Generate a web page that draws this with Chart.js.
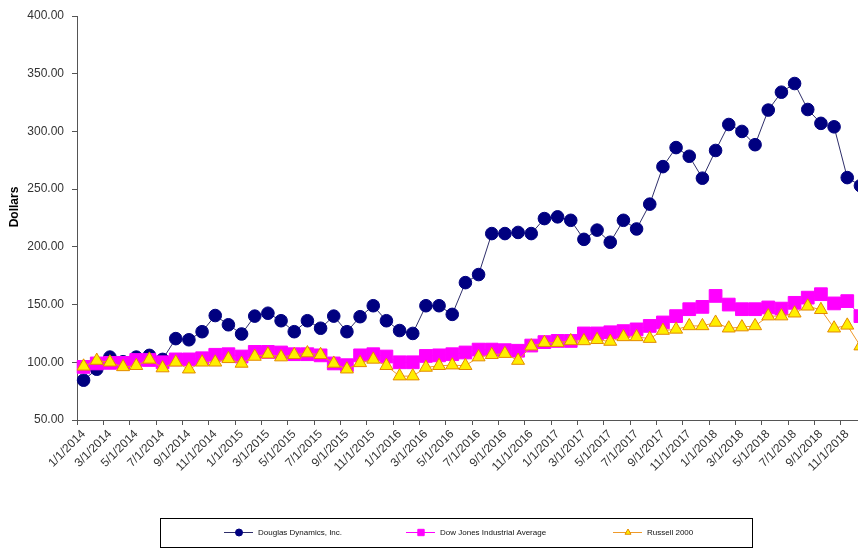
<!DOCTYPE html>
<html>
<head>
<meta charset="utf-8">
<title>Douglas Dynamics vs indexes</title>
<script src="https://cdn.jsdelivr.net/npm/chart.js@4.4.1/dist/chart.umd.min.js"></script>
<style>
    html, body { margin: 0; padding: 0; overflow: hidden; background: #fff; }
    #wrap { position: relative; width: 880px; height: 548px; }
</style>
</head>
<body>
<div id="wrap"><canvas id="mycanvas"></canvas></div>
<script>
var months = [
    "1/1/2014", "2/1/2014", "3/1/2014", "4/1/2014", "5/1/2014", "6/1/2014",
    "7/1/2014", "8/1/2014", "9/1/2014", "10/1/2014", "11/1/2014", "12/1/2014",
    "1/1/2015", "2/1/2015", "3/1/2015", "4/1/2015", "5/1/2015", "6/1/2015",
    "7/1/2015", "8/1/2015", "9/1/2015", "10/1/2015", "11/1/2015", "12/1/2015",
    "1/1/2016", "2/1/2016", "3/1/2016", "4/1/2016", "5/1/2016", "6/1/2016",
    "7/1/2016", "8/1/2016", "9/1/2016", "10/1/2016", "11/1/2016", "12/1/2016",
    "1/1/2017", "2/1/2017", "3/1/2017", "4/1/2017", "5/1/2017", "6/1/2017",
    "7/1/2017", "8/1/2017", "9/1/2017", "10/1/2017", "11/1/2017", "12/1/2017",
    "1/1/2018", "2/1/2018", "3/1/2018", "4/1/2018", "5/1/2018", "6/1/2018",
    "7/1/2018", "8/1/2018", "9/1/2018", "10/1/2018", "11/1/2018", "12/1/2018"
];

var douglas = [
    84.5, 94, 104.5, 100.5, 104.5, 106, 102.5, 120.5, 119.5, 126.5, 140.5, 132.5,
    124.5, 140, 142.5, 136, 126.5, 136, 129.5, 140, 126.5, 139.5, 149, 136,
    127.5, 125, 149, 149, 141.5, 169, 176, 211.5, 211.5, 212.5, 211.5, 224.5,
    226, 223, 206.5, 214.5, 204, 223, 215.5, 237, 269.5, 286, 278.5, 259.5,
    283.5, 306, 300, 288.5, 318.5, 334, 341.5, 319, 307, 304, 260, 253
];

var dowJones = [
    96, 99, 99.5, 99.5, 102, 102, 100, 102.5, 102.5, 103.5, 106.5, 107,
    105, 109, 109, 108.5, 107, 107, 106, 99, 97.5, 106, 107, 105,
    100, 100, 105.5, 106, 107, 108.5, 111, 111, 110.5, 110, 114.5, 117.5,
    118.5, 118.5, 125, 125, 126, 127, 128.5, 131.5, 134.5, 140, 146, 148,
    157.5, 150, 146, 146, 147.5, 146.5, 151.5, 156, 159, 151, 153, 140
];

var russell = [
    96.5, 101.5, 100, 96, 97, 102.5, 95, 100, 94, 100, 100, 103,
    99, 105, 107, 104.5, 106.5, 108, 106.5, 99, 94, 99.5, 102.5, 97,
    88, 88, 95.5, 97, 97.5, 97, 104.5, 106.5, 107.5, 101.5, 114, 117,
    117, 118.5, 118.5, 119.5, 118, 122, 122, 120.5, 127.5, 128.5, 131.5, 131.5,
    134.5, 129.5, 130.5, 131.5, 140, 140, 142.5, 148.5, 145.5, 129.5, 132, 114
];

var seriesNames = ["Douglas Dynamics, Inc.", "Dow Jones Industrial Average", "Russell 2000"];

var tickFont = { family: "'Liberation Sans', Arial, sans-serif", size: 12 };

// legend box (Excel style) + y axis title
var extras = {
    id: 'extras',
    afterDraw: function(chart) {
        var c = chart.ctx;
        c.save();

        c.fillStyle = '#000';
        c.font = "bold 12px 'Liberation Sans', Arial, sans-serif";
        c.textAlign = 'center';
        c.textBaseline = 'middle';
        c.translate(15, 207);
        c.rotate(-Math.PI / 2);
        c.fillText('Dollars', 0, 0);
        c.setTransform(chart.currentDevicePixelRatio, 0, 0, chart.currentDevicePixelRatio, 0, 0);

        c.strokeStyle = '#000';
        c.lineWidth = 1;
        c.strokeRect(160.5, 518.5, 592, 29);

        var starts = [224, 406, 613];
        var y = 532.5;
        chart.data.datasets.forEach(function(ds, i) {
            var x = starts[i];
            c.strokeStyle = ds.borderColor;
            c.lineWidth = 1;
            c.beginPath();
            c.moveTo(x, y);
            c.lineTo(x + 29, y);
            c.stroke();
            c.fillStyle = ds.pointBackgroundColor;
            c.strokeStyle = ds.pointBorderColor;
            Chart.helpers.drawPoint(c, {
                pointStyle: ds.pointStyle,
                radius: ds.pointStyle === 'rect' ? 4.5 : 3.5,
                rotation: 0,
                borderWidth: 1
            }, x + 15, y);
            c.fillStyle = '#111';
            c.font = "8px 'Liberation Sans', Arial, sans-serif";
            c.textAlign = 'left';
            c.textBaseline = 'middle';
            c.fillText(ds.label, x + 34, y);
        });
        c.restore();
    }
};

var ctx = document.getElementById('mycanvas');

var lineGraph = new Chart(ctx, {
    type: 'line',
    data: {
        labels: months,
        datasets: [
            {
                label: seriesNames[0],
                data: douglas,
                order: 3,
                borderColor: '#2e2e6a',
                borderWidth: 1,
                pointStyle: 'circle',
                pointRadius: 6.3,
                pointBackgroundColor: '#000080',
                pointBorderColor: '#000080',
                pointBorderWidth: 1
            },
            {
                label: seriesNames[1],
                data: dowJones,
                order: 2,
                borderColor: '#ff00ff',
                borderWidth: 1,
                pointStyle: 'rect',
                pointRadius: 9,
                pointBackgroundColor: '#ff00ff',
                pointBorderColor: '#ff00ff',
                pointBorderWidth: 1
            },
            {
                label: seriesNames[2],
                data: russell,
                order: 1,
                borderColor: '#ef9a2a',
                borderWidth: 1,
                pointStyle: 'triangle',
                pointRadius: 7.5,
                pointBackgroundColor: '#ffee00',
                pointBorderColor: '#e38a00',
                pointBorderWidth: 1
            }
        ]
    },
    options: {
        responsive: true,
        maintainAspectRatio: false,
        animation: false,
        events: [],
        layout: { padding: { left: 0, top: 16, right: 13, bottom: 58 } },
        plugins: {
            legend: { display: false },
            tooltip: { enabled: false }
        },
        elements: { line: { tension: 0 } },
        scales: {
            x: {
                offset: true,
                grid: {
                    offset: true,
                    drawOnChartArea: false,
                    tickLength: 5,
                    color: function(c) { return c.index % 2 === 0 ? '#555' : 'rgba(0,0,0,0)'; }
                },
                border: { color: '#555', width: 1 },
                ticks: {
                    autoSkip: false,
                    maxRotation: 45,
                    minRotation: 45,
                    padding: 2,
                    font: tickFont,
                    color: '#333',
                    callback: function(v, i) { return i % 2 === 0 ? this.getLabelForValue(v) : ''; }
                },
                afterFit: function(s) { s.height = 70; }
            },
            y: {
                min: 50,
                max: 400,
                grid: { drawOnChartArea: false, tickLength: 5, color: '#555' },
                border: { color: '#555', width: 1 },
                ticks: {
                    stepSize: 50,
                    padding: 8,
                    font: tickFont,
                    color: '#333',
                    callback: function(v) { return v.toFixed(2); }
                },
                afterFit: function(s) { s.width = 77; }
            }
        }
    },
    plugins: [extras]
});
</script>
</body>
</html>
